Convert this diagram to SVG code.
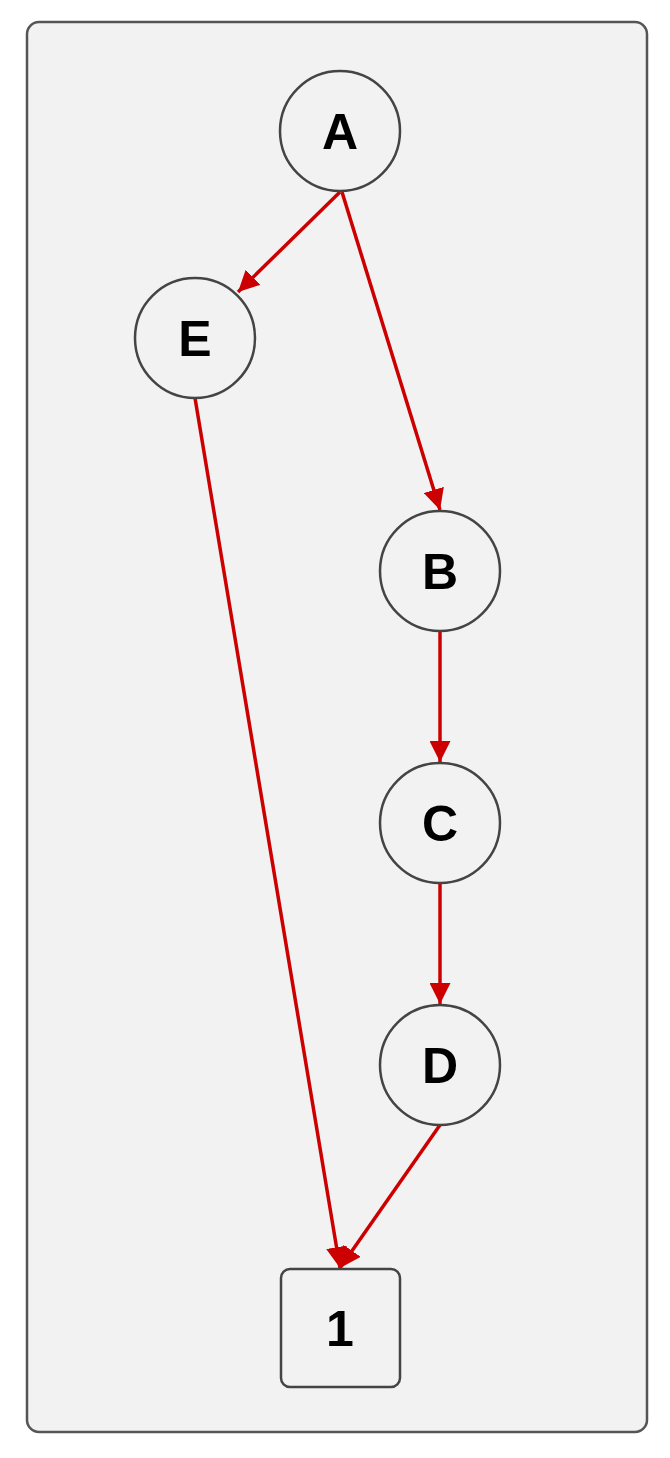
<svg xmlns="http://www.w3.org/2000/svg" width="670" height="1458" viewBox="0 0 670 1458">
<style>
.n{fill:#f2f2f2;stroke:#444;stroke-width:2.5}
.t{font-family:"Liberation Sans",Arial,sans-serif;font-weight:bold;font-size:50px;text-anchor:middle;fill:#000}
.e{stroke:#cc0000;stroke-width:3.5;fill:none}
</style>
<defs><marker id="ah" viewBox="0 0 10 10" refX="10" refY="5" markerWidth="6" markerHeight="6" markerUnits="strokeWidth" orient="auto"><path d="M0,0L10,5L0,10z" fill="#cc0000"/></marker></defs>
<rect x="27" y="22" width="620" height="1410" rx="12" fill="#f2f2f2" stroke="#555" stroke-width="2.5"/>
<g id="connectors">
<line class="e" x1="340" y1="192" x2="238" y2="292" marker-end="url(#ah)"/>
<line class="e" x1="342" y1="192" x2="440" y2="510" marker-end="url(#ah)"/>
<line class="e" x1="440" y1="631" x2="440" y2="762" marker-end="url(#ah)"/>
<line class="e" x1="440" y1="884" x2="440" y2="1004" marker-end="url(#ah)"/>
<line class="e" x1="195" y1="398" x2="340" y2="1268" marker-end="url(#ah)"/>
<line class="e" x1="440" y1="1125" x2="340" y2="1268" marker-end="url(#ah)"/>
</g>
<g id="A"><circle class="n" cx="340" cy="131" r="60"/><text class="t" x="340" y="149">A</text></g>
<g id="E"><circle class="n" cx="195" cy="338" r="60"/><text class="t" x="195" y="356">E</text></g>
<g id="B"><circle class="n" cx="440" cy="571" r="60"/><text class="t" x="440" y="589">B</text></g>
<g id="C"><circle class="n" cx="440" cy="823" r="60"/><text class="t" x="440" y="841">C</text></g>
<g id="D"><circle class="n" cx="440" cy="1065" r="60"/><text class="t" x="440" y="1083">D</text></g>
<g id="n1"><rect class="n" x="281" y="1269" width="119" height="118" rx="9"/><text class="t" x="340" y="1346">1</text></g>
</svg>
